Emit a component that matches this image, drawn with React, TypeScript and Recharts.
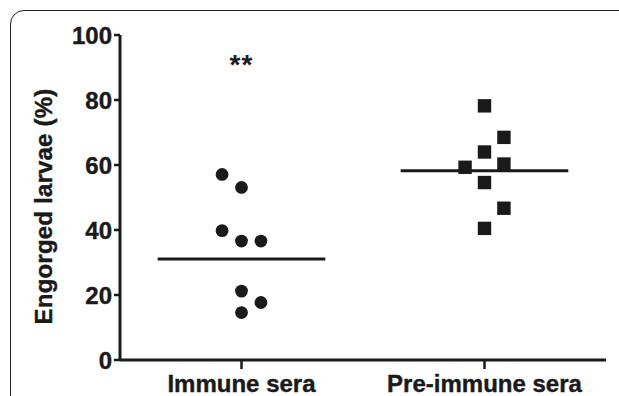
import { ComposedChart, XAxis, YAxis, Scatter, ReferenceLine, ReferenceDot } from 'recharts'

const categories = ['Immune sera', 'Pre-immune sera']
const yTicks = [0, 20, 40, 60, 80, 100]

// x = category position (0.5 / 1.5) plus the jitter seen in the figure
const immuneX = [0.42, 0.5, 0.42, 0.5, 0.58, 0.5, 0.58, 0.5]
const immuneY = [57.1, 53.1, 39.8, 36.6, 36.6, 21.2, 17.7, 14.6]
const preX = [1.5, 1.58, 1.5, 1.42, 1.58, 1.5, 1.58, 1.5]
const preY = [78.2, 68.5, 64, 59.3, 60.3, 54.6, 46.7, 40.5]
const centerLines = [31.1, 58.2]
const annotation = { x: 0.5, y: 91, text: '**' }

const immune = immuneX.map((x, i) => ({ x, y: immuneY[i] }))
const preImmune = preX.map((x, i) => ({ x, y: preY[i] }))

const INK = '#1a1a1a'
const FONT = '"Liberation Sans", Arial, Helvetica, sans-serif'

const Dot = (props: any) => {
  const { cx, cy } = props
  if (cx == null || cy == null) return null
  return <circle cx={cx} cy={cy} r={6.4} fill={INK} />
}

const Square = (props: any) => {
  const { cx, cy } = props
  if (cx == null || cy == null) return null
  const s = 13.4
  return <rect x={cx - s / 2} y={cy - s / 2} width={s} height={s} fill={INK} />
}

const YLabel = (props: any) => {
  const vb = props.viewBox
  if (!vb) return null
  const cx = vb.x + 52
  const cy = vb.y + vb.height / 2 + 9
  return (
    <text
      x={cx}
      y={cy}
      transform={`rotate(-90, ${cx}, ${cy})`}
      textAnchor="middle"
      fill={INK}
      stroke={INK}
      strokeWidth={0.4}
      fontFamily={FONT}
      fontWeight="bold"
      fontSize={24}
      letterSpacing={0.2}
    >
      Engorged larvae (%)
    </text>
  )
}

export default function App() {
  const tickStyle = {
    fill: INK,
    stroke: INK,
    strokeWidth: 0.4,
    fontFamily: FONT,
    fontWeight: 'bold',
    fontSize: 24,
  } as any
  return (
    <div style={{ position: 'absolute', left: 0, top: 0, width: 619, height: 396, overflow: 'hidden', background: '#fff' }}>
      <div
        style={{
          position: 'absolute',
          left: 10,
          top: 10,
          width: 700,
          height: 500,
          border: '1.6px solid #222',
          borderRadius: 14,
          boxSizing: 'border-box',
        }}
      />
      <div style={{ position: 'absolute', left: 0, top: 0 }}>
        <ComposedChart width={619} height={396} margin={{ top: 35, right: 13, left: 0, bottom: 0 }}>
          <XAxis
            type="number"
            dataKey="x"
            domain={[0, 2]}
            ticks={[0.5, 1.5]}
            tickFormatter={(v: number) => categories[Math.floor(v)]}
            height={36}
            axisLine={{ stroke: INK, strokeWidth: 3 }}
            tickLine={{ stroke: INK, strokeWidth: 2.5 }}
            tickSize={9}
            tickMargin={6}
            tick={tickStyle}
            interval={0}
          />
          <YAxis
            type="number"
            dataKey="y"
            domain={[0, 100]}
            ticks={yTicks}
            width={120}
            axisLine={{ stroke: INK, strokeWidth: 3 }}
            tickLine={{ stroke: INK, strokeWidth: 2.5 }}
            tickSize={6}
            tickMargin={2}
            tick={tickStyle}
            label={<YLabel />}
          />
          <ReferenceLine
            segment={[
              { x: 0.155, y: centerLines[0] },
              { x: 0.845, y: centerLines[0] },
            ]}
            stroke={INK}
            strokeWidth={3}
          />
          <ReferenceLine
            segment={[
              { x: 1.155, y: centerLines[1] },
              { x: 1.845, y: centerLines[1] },
            ]}
            stroke={INK}
            strokeWidth={3}
          />
          <Scatter data={immune} shape={Dot} isAnimationActive={false} />
          <Scatter data={preImmune} shape={Square} isAnimationActive={false} />
          <ReferenceDot
            x={annotation.x}
            y={annotation.y}
            r={0}
            stroke="none"
            label={{
              value: annotation.text,
              position: 'center',
              fill: INK,
              fontFamily: FONT,
              fontWeight: 'bold',
              fontSize: 28,
              letterSpacing: 1,
            }}
          />
        </ComposedChart>
      </div>
    </div>
  )
}
